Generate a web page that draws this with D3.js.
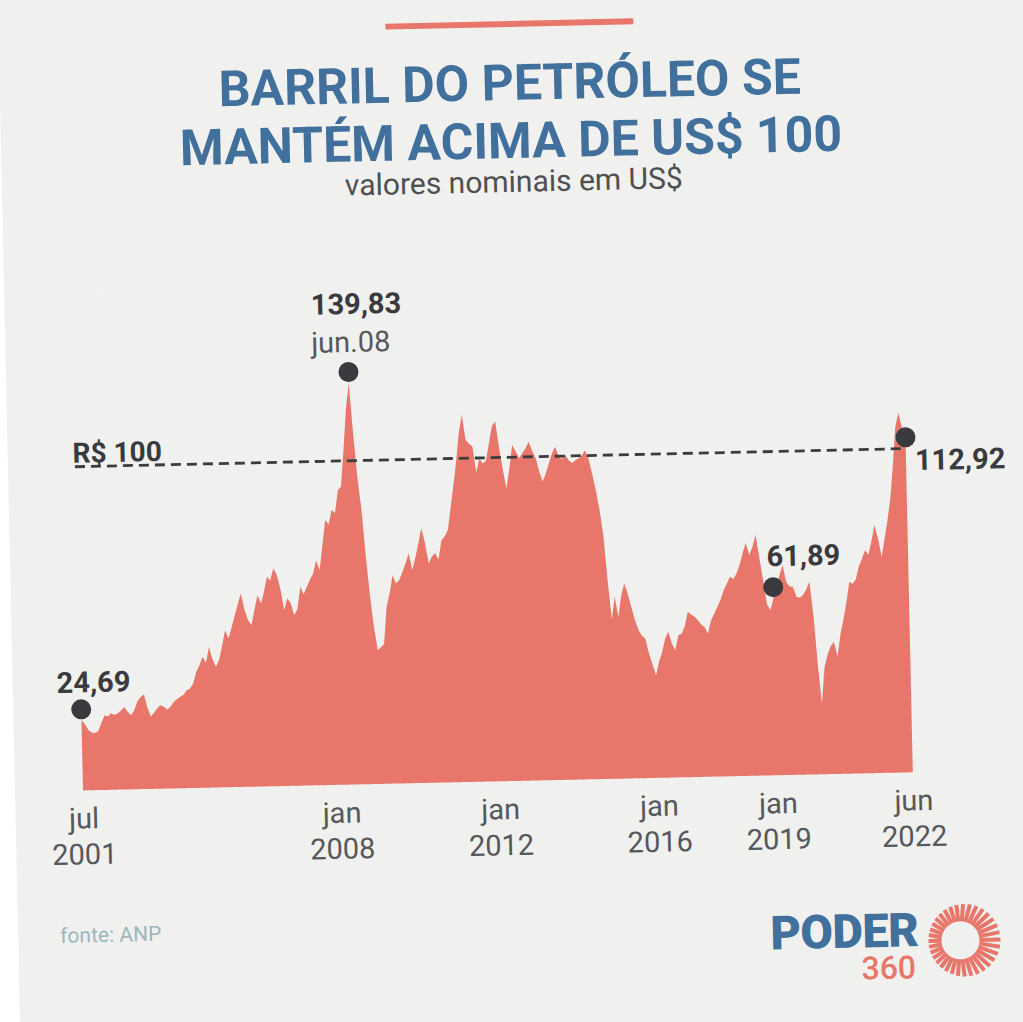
<!DOCTYPE html>
<html lang="pt-BR">
<head>
<meta charset="UTF-8">
<title>Barril do petróleo</title>
<script src="https://cdn.jsdelivr.net/npm/d3@7"></script>
<style>
    html, body { margin: 0; padding: 0; background: #fff; }
    svg { display: block; }
    text { font-family: Roboto, "Noto Sans", Arial, sans-serif; }
</style>
</head>
<body>
<script>
// Brent (US$), monthly, jul/2001 .. jun/2022
var startMonth = new Date(2001, 6, 1);
var brentValues = [
    21, 19.5, 17.5, 16.6, 16.4, 17,                                   // 2001 (jul-dez)
    20, 22.5, 22, 23.1, 22.5, 23, 24, 25.2, 23.5, 22.3, 24, 27,        // 2002
    28.5, 29.4, 25, 21.6, 23, 24.5, 25.5, 25, 24, 24.9, 26.5, 27.5,    // 2003
    28.3, 29, 30.5, 31, 32.8, 36.8, 39, 42, 40, 45.4, 41, 38.5,        // 2004
    41, 46, 51, 48.2, 52, 56, 60, 63.7, 58, 54.5, 52.7, 58,            // 2005
    63, 60.1, 64, 69.3, 68, 72.2, 70, 65, 57.6, 61.6, 60, 55.8,        // 2006
    58, 65.6, 63, 65.5, 68, 70, 74.7, 71.3, 80, 88.6, 87, 92,          // 2007
    91, 98.9, 100, 113, 127, 135.9, 118.5, 103, 92, 76, 62, 51.2,      // 2008
    43, 44.1, 45, 58, 62.6, 68.9, 66, 67.2, 70, 73, 76.4, 70.5,        // 2009
    75, 80, 85, 80, 72.8, 75, 76.3, 74, 80.7, 82, 84.2, 92,            // 2010
    100, 108.5, 118, 124, 115.3, 114, 113, 104, 108.8, 107, 108, 114,  // 2011
    120, 121.5, 112.7, 105, 98.2, 105, 113.2, 111, 108.6, 110.3, 112, 114.2, // 2012
    111, 108.4, 104, 100.3, 103, 106.6, 110, 112.3, 108.8, 108, 109.4, 107.5, // 2013
    106.5, 107.5, 108.1, 109, 110.9, 108, 102.8, 97, 90, 81, 65, 52,   // 2014
    59.7, 52.7, 60, 64.3, 60.8, 56, 51.5, 48, 46, 45, 39.8, 36,        // 2015
    32.2, 37, 40, 45, 47.2, 43, 40.8, 45.9, 46.4, 49, 54, 53,          // 2016
    52.2, 51, 49.5, 48.6, 46.3, 50.9, 53, 55.5, 58, 61.2, 63.5, 65.8,  // 2017
    65, 67, 69.8, 74, 77.3, 73.2, 76, 80.1, 72, 64.4, 56, 54,          // 2018
    58, 62, 66, 69.5, 63.7, 62, 61.9, 58.4, 58, 58.9, 61, 63.5,        // 2019
    51.3, 33.9, 21.2, 33.8, 38, 41, 42.4, 37.2, 45, 50, 56, 63.1,      // 2020
    62.5, 64, 68.3, 71, 74, 72.3, 77, 82.7, 78, 71.6, 78, 84.3,        // 2021
    92, 104, 116.6, 121.5, 116, 112                                    // 2022 (jan-jun)
];

// destaques
var highlightDates  = [new Date(2001, 6, 1), new Date(2008, 5, 1), new Date(2019, 0, 1), new Date(2022, 5, 1)];
var highlightValues = [24.69, 139.83, 61.89, 112.92];
var highlightLabels = ["24,69", "139,83", "61,89", "112,92"];

// eixo x
var tickDates  = [new Date(2001, 6, 1), new Date(2008, 0, 1), new Date(2012, 0, 1), new Date(2016, 0, 1), new Date(2019, 0, 1), new Date(2022, 5, 1)];
var tickMonths = ["jul", "jan", "jan", "jan", "jan", "jun"];
var tickYears  = ["2001", "2008", "2012", "2016", "2019", "2022"];

// linha de referência (fica onde o original a desenhou)
var refLabel = "R$ 100";
var refValue = 109;

var W = 1023, H = 1022;
var plotLeft = 77, plotRight = 907, plotBottom = 781;
var coral = "#e9766a", blue = "#41709c", dark = "#3a3a3e", grey = "#55585c";

var data = brentValues.map(function (v, i) {
    return { date: d3.timeMonth.offset(startMonth, i), value: v };
});

var x = d3.scaleTime()
    .domain([startMonth, data[data.length - 1].date])
    .range([plotLeft, plotRight]);

var y = d3.scaleLinear()
    .domain([0, 140])
    .range([771, 368]);

var svg = d3.select("body").append("svg")
    .attr("width", W)
    .attr("height", H);

var defs = svg.append("defs");
var grain = defs.append("filter").attr("id", "grain")
    .attr("x", 0).attr("y", 0).attr("width", "100%").attr("height", "100%");
grain.append("feTurbulence")
    .attr("type", "fractalNoise")
    .attr("baseFrequency", 0.95)
    .attr("numOctaves", 2)
    .attr("seed", 3);
grain.append("feColorMatrix")
    .attr("type", "matrix")
    .attr("values", "0 0 0 0 0.5  0 0 0 0 0.5  0 0 0 0 0.5  0 0 0 0.1 0");
grain.append("feComposite").attr("operator", "in").attr("in2", "SourceGraphic");

svg.append("rect").attr("width", W).attr("height", H).attr("fill", "#fff");

// o papel escaneado está levemente girado
var page = svg.append("g").attr("transform", "rotate(-1.25, 511, 511)");

page.append("rect")
    .attr("x", 9).attr("y", -20)
    .attr("width", 1100).attr("height", 1140)
    .attr("fill", "#f3f3f1");
page.append("rect")
    .attr("x", 9).attr("y", -20)
    .attr("width", 1100).attr("height", 1140)
    .attr("fill", "#fff")
    .attr("filter", "url(#grain)");

// barra vermelha do topo
page.append("rect")
    .attr("x", 396).attr("y", 21)
    .attr("width", 248).attr("height", 6)
    .attr("fill", coral);

// título
var title = page.append("text")
    .attr("text-anchor", "middle")
    .attr("fill", blue)
    .attr("font-weight", 700)
    .attr("font-size", 50);
title.append("tspan").attr("x", 519).attr("y", 100).text("BARRIL DO PETRÓLEO SE");
title.append("tspan").attr("x", 519).attr("y", 158).text("MANTÉM ACIMA DE US$ 100");

page.append("text")
    .attr("x", 521).attr("y", 192)
    .attr("text-anchor", "middle")
    .attr("fill", "#4e4f52")
    .attr("font-size", 30)
    .text("valores nominais em US$");

// área
var area = d3.area()
    .x(function (d) { return x(d.date); })
    .y0(plotBottom)
    .y1(function (d) { return y(d.value); });

page.append("path")
    .datum(data)
    .attr("d", area)
    .attr("fill", coral);

// linha tracejada
page.append("line")
    .attr("x1", plotLeft - 1).attr("x2", plotRight - 4)
    .attr("y1", y(refValue)).attr("y2", y(refValue))
    .attr("stroke", "#3c3c3c")
    .attr("stroke-width", 2.8)
    .attr("stroke-dasharray", "10,6");

page.append("text")
    .attr("x", plotLeft - 3).attr("y", y(refValue) - 4)
    .attr("fill", dark)
    .attr("font-weight", 700)
    .attr("font-size", 28)
    .text(refLabel);

// eixo x
var axis = page.append("g")
    .attr("transform", "translate(0," + plotBottom + ")")
    .call(d3.axisBottom(x).tickValues(tickDates).tickSize(0).tickFormat(function () { return ""; }));
axis.select(".domain").remove();
axis.attr("font-family", null).attr("font-size", null);
axis.selectAll(".tick text")
    .attr("y", 0).attr("dy", null)
    .attr("fill", grey)
    .attr("font-size", 29)
    .each(function (d, i) {
        var t = d3.select(this);
        t.append("tspan").attr("x", 0).attr("y", 38).text(tickMonths[i]);
        t.append("tspan").attr("x", 0).attr("y", 74).text(tickYears[i]);
    });

// pontos de destaque
var hl = highlightDates.map(function (d, i) {
    return { date: d, value: highlightValues[i], label: highlightLabels[i] };
});
// deslocamento de cada rótulo em relação ao ponto
var labelOffsets = [[-24, -17, "start"], [9, -58, "middle"], [-6, -21, "start"], [9, 33, "start"]];

var marks = page.selectAll(".hl")
    .data(hl)
    .enter().append("g")
    .attr("class", "hl")
    .attr("transform", function (d) { return "translate(" + x(d.date) + "," + y(d.value) + ")"; });

marks.append("circle")
    .attr("r", 10)
    .attr("fill", dark);

marks.append("text")
    .attr("x", function (d, i) { return labelOffsets[i][0]; })
    .attr("y", function (d, i) { return labelOffsets[i][1]; })
    .attr("text-anchor", function (d, i) { return labelOffsets[i][2]; })
    .attr("fill", dark)
    .attr("font-weight", 700)
    .attr("font-size", 29)
    .text(function (d) { return d.label; });

marks.filter(function (d, i) { return i === 1; })
    .append("text")
    .attr("x", 3).attr("y", -20)
    .attr("text-anchor", "middle")
    .attr("fill", grey)
    .attr("font-size", 29)
    .text("jun.08");

// fonte
page.append("text")
    .attr("x", 51).attr("y", 933)
    .attr("fill", "#9fb5be")
    .attr("font-size", 21)
    .text("fonte: ANP");

// logo
page.append("text")
    .attr("x", 909).attr("y", 955)
    .attr("text-anchor", "end")
    .attr("fill", blue)
    .attr("font-weight", 900)
    .attr("font-size", 47)
    .attr("letter-spacing", -0.5)
    .text("PODER");
page.append("text")
    .attr("x", 906).attr("y", 987)
    .attr("text-anchor", "end")
    .attr("fill", coral)
    .attr("font-weight", 500)
    .attr("font-size", 32)
    .text("360");

var sun = page.append("g").attr("transform", "translate(951,950)");
sun.selectAll("line")
    .data(d3.range(34))
    .enter().append("line")
    .attr("x1", function (k) { return 19 * Math.cos(k / 34 * 2 * Math.PI); })
    .attr("y1", function (k) { return 19 * Math.sin(k / 34 * 2 * Math.PI); })
    .attr("x2", function (k) { var r = 36 + 4 * Math.cos(k / 34 * 2 * Math.PI); return r * Math.cos(k / 34 * 2 * Math.PI); })
    .attr("y2", function (k) { var r = 36 + 4 * Math.cos(k / 34 * 2 * Math.PI); return r * Math.sin(k / 34 * 2 * Math.PI); })
    .attr("stroke", coral)
    .attr("stroke-width", 4);
</script>
</body>
</html>
